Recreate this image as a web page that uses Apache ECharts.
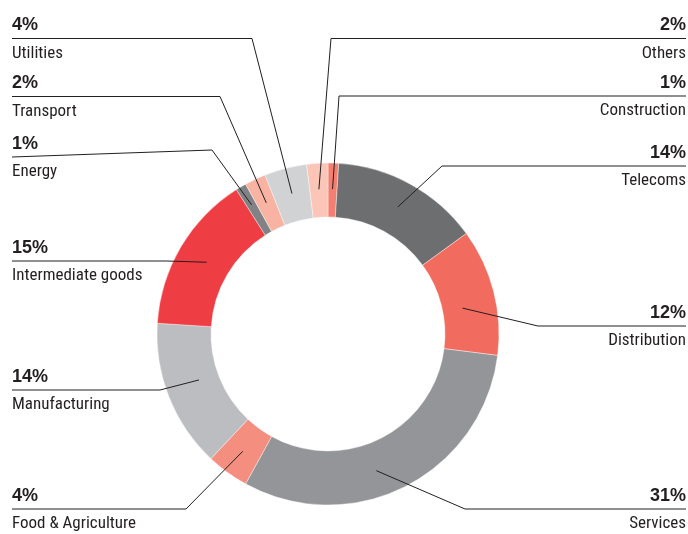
<!DOCTYPE html>
<html>
<head>
<meta charset="utf-8">
<script src="https://cdn.jsdelivr.net/npm/echarts@6/dist/echarts.min.js"></script>
<style>
html,body{margin:0;padding:0;background:#fff;}
#chart{width:688px;height:534px;}
</style>
</head>
<body>
<div id="chart"></div>
<script>
// ---- data (clockwise from 12 o'clock) ----
const categories = ['Construction', 'Telecoms', 'Distribution', 'Services', 'Food & Agriculture',
  'Manufacturing', 'Intermediate goods', 'Energy', 'Transport', 'Utilities', 'Others'];
const shares = [1, 14, 12, 31, 4, 14, 15, 1, 2, 4, 2];

// ---- styling / layout (kept separate from data) ----
const colors = ['#f47e6f', '#6d6e70', '#f16c5f', '#939598', '#f48e7e',
  '#bcbdc0', '#ee3e44', '#808285', '#f8b3a3', '#d1d2d4', '#fbc5b8'];
// label anchor: side, y of leader line at the label, turn point of the leader,
// optional angular nudge (deg, clockwise) and radius of the leader's end inside the ring
const labelAnchors = [
  {side: 'right', y: 96,   turnX: 339, turnY: 96},
  {side: 'right', y: 166,  turnX: 442, turnY: 166},
  {side: 'right', y: 326,  turnX: 538, turnY: 326, nudge: 3.5, endR: 137},
  {side: 'right', y: 509,  turnX: 465, turnY: 509, nudge: 7.5},
  {side: 'left',  y: 509,  turnX: 186, turnY: 509},
  {side: 'left',  y: 390,  turnX: 160, turnY: 390, nudge: 2, endR: 137},
  {side: 'left',  y: 261,  turnX: 167, turnY: 261, endR: 141},
  {side: 'left',  y: 157,  turnX: 212, turnY: 150, endR: 150},
  {side: 'left',  y: 96.5, turnX: 220, turnY: 96.5},
  {side: 'left',  y: 38.5, turnX: 252, turnY: 38.5},
  {side: 'right', y: 38.5, turnX: 331, turnY: 38.5}
];
const CX = 328, CY = 334, R0 = 117, R1 = 171, RMID = 145;
const LEFT_X = 12, RIGHT_X = 686;
const textColor = '#231f20';
const nameFont = "'Liberation Sans Narrow', 'Roboto Condensed', Roboto, sans-serif";
const pctFont = "'Liberation Sans', Arial, sans-serif";

const pieData = (transparent) => categories.map((c, i) => ({
  name: c,
  value: shares[i],
  itemStyle: {color: transparent ? 'rgba(0,0,0,0)' : colors[i]}
}));

const chart = echarts.init(document.getElementById('chart'), null, {renderer: 'canvas'});

chart.setOption({
  backgroundColor: '#ffffff',
  animation: false,
  series: [{
    // coloured donut
    type: 'pie',
    z: 2,
    center: [CX, CY],
    radius: [R0, R1],
    startAngle: 90,
    clockwise: true,
    silent: true,
    itemStyle: {borderColor: '#ffffff', borderWidth: 0.4},
    data: pieData(false),
    label: {show: false},
    labelLine: {show: false}
  }, {
    // same donut, invisible, carrying labels + leader lines drawn above the ring
    type: 'pie',
    z: 5,
    center: [CX, CY],
    radius: [R0, R1],
    startAngle: 90,
    clockwise: true,
    avoidLabelOverlap: false,
    silent: true,
    itemStyle: {borderWidth: 0},
    data: pieData(true),
    label: {
      show: true,
      position: 'outside',
      formatter: p => '{p|' + p.value + '%}\n{n|' + p.name + '}',
      rich: {
        p: {fontFamily: pctFont, fontWeight: 'bold', fontSize: 18, color: textColor, lineHeight: 26},
        n: {fontFamily: nameFont, fontSize: 17, color: textColor, lineHeight: 30}
      }
    },
    labelLine: {
      show: true,
      showAbove: true,
      lineStyle: {color: '#231f20', width: 1}
    },
    labelLayout: function (params) {
      const a = labelAnchors[params.dataIndex];
      const pts = params.labelLinePoints;
      let end = [CX, CY];
      if (pts && pts.length) {
        const p0 = pts[0];
        const ang = Math.atan2(p0[1] - CY, p0[0] - CX) + (a.nudge || 0) * Math.PI / 180;
        const r = a.endR || RMID;
        end = [CX + Math.cos(ang) * r, CY + Math.sin(ang) * r];
      }
      const startX = a.side === 'left' ? LEFT_X : RIGHT_X;
      return {
        x: startX,
        y: a.y - 26,
        align: a.side === 'left' ? 'left' : 'right',
        verticalAlign: 'top',
        labelLinePoints: [[startX, a.y], [a.turnX, a.turnY], end]
      };
    }
  }]
});
</script>
</body>
</html>
